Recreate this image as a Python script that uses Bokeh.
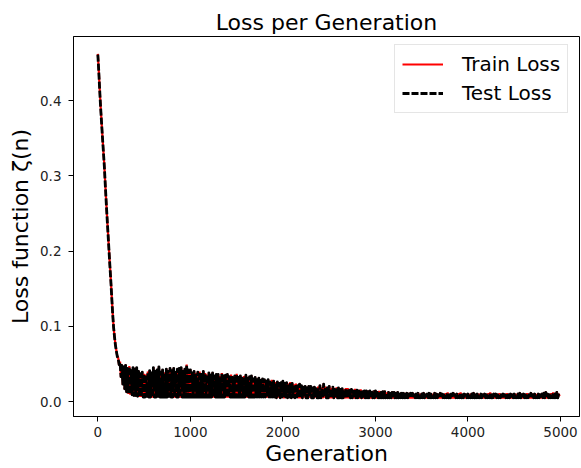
from bokeh.plotting import figure
from bokeh.models import Range1d, FixedTicker, PrintfTickFormatter, Legend, LegendItem
from bokeh.embed import file_html
from bokeh.resources import INLINE

generations = list(range(0, 5000, 10))

train_loss = [
    0.462, 0.440, 0.415, 0.392, 0.372, 0.352, 0.333, 0.314, 0.290, 0.267,
    0.245, 0.224, 0.203, 0.182, 0.162, 0.140, 0.118, 0.100, 0.087, 0.076,
    0.068, 0.060, 0.058, 0.048, 0.053, 0.032, 0.049, 0.022, 0.047, 0.016,
    0.049, 0.012, 0.045, 0.010, 0.047, 0.009, 0.042, 0.008, 0.046, 0.007,
    0.044, 0.007, 0.046, 0.006, 0.041, 0.006, 0.038, 0.006, 0.040, 0.005,
    0.037, 0.005, 0.036, 0.006, 0.040, 0.005, 0.042, 0.005, 0.039, 0.005,
    0.046, 0.005, 0.041, 0.005, 0.043, 0.006, 0.047, 0.005, 0.040, 0.005,
    0.043, 0.005, 0.039, 0.005, 0.044, 0.005, 0.041, 0.006, 0.045, 0.005,
    0.042, 0.005, 0.045, 0.005, 0.040, 0.005, 0.044, 0.005, 0.045, 0.005,
    0.046, 0.005, 0.041, 0.005, 0.044, 0.005, 0.049, 0.005, 0.043, 0.005,
    0.043, 0.005, 0.039, 0.005, 0.041, 0.005, 0.038, 0.005, 0.040, 0.005,
    0.040, 0.005, 0.037, 0.005, 0.041, 0.005, 0.038, 0.005, 0.036, 0.005,
    0.039, 0.005, 0.036, 0.005, 0.039, 0.005, 0.035, 0.005, 0.037, 0.005,
    0.037, 0.005, 0.034, 0.005, 0.038, 0.005, 0.035, 0.005, 0.036, 0.005,
    0.037, 0.005, 0.034, 0.005, 0.036, 0.005, 0.033, 0.005, 0.035, 0.005,
    0.037, 0.005, 0.033, 0.005, 0.035, 0.005, 0.032, 0.005, 0.034, 0.005,
    0.036, 0.005, 0.032, 0.005, 0.034, 0.005, 0.035, 0.005, 0.031, 0.005,
    0.033, 0.005, 0.030, 0.005, 0.032, 0.005, 0.029, 0.005, 0.031, 0.005,
    0.030, 0.005, 0.028, 0.005, 0.030, 0.005, 0.027, 0.005, 0.029, 0.005,
    0.028, 0.005, 0.026, 0.004, 0.027, 0.005, 0.025, 0.004, 0.026, 0.005,
    0.028, 0.004, 0.025, 0.005, 0.026, 0.004, 0.024, 0.005, 0.026, 0.004,
    0.025, 0.005, 0.023, 0.004, 0.024, 0.005, 0.022, 0.004, 0.024, 0.004,
    0.022, 0.004, 0.020, 0.005, 0.021, 0.004, 0.019, 0.004, 0.021, 0.005,
    0.021, 0.004, 0.019, 0.004, 0.020, 0.005, 0.018, 0.004, 0.020, 0.004,
    0.022, 0.004, 0.019, 0.004, 0.024, 0.005, 0.020, 0.004, 0.019, 0.004,
    0.021, 0.004, 0.018, 0.004, 0.020, 0.004, 0.017, 0.005, 0.019, 0.004,
    0.019, 0.004, 0.017, 0.004, 0.018, 0.004, 0.016, 0.004, 0.018, 0.004,
    0.018, 0.004, 0.016, 0.004, 0.017, 0.004, 0.015, 0.004, 0.017, 0.004,
    0.016, 0.004, 0.015, 0.004, 0.016, 0.004, 0.014, 0.004, 0.015, 0.004,
    0.015, 0.004, 0.014, 0.004, 0.015, 0.004, 0.013, 0.004, 0.014, 0.004,
    0.015, 0.004, 0.013, 0.004, 0.014, 0.004, 0.013, 0.004, 0.014, 0.004,
    0.014, 0.004, 0.012, 0.004, 0.013, 0.004, 0.012, 0.004, 0.013, 0.004,
    0.013, 0.004, 0.012, 0.004, 0.013, 0.004, 0.011, 0.004, 0.012, 0.004,
    0.012, 0.004, 0.011, 0.004, 0.012, 0.004, 0.011, 0.004, 0.012, 0.004,
    0.012, 0.004, 0.010, 0.004, 0.011, 0.004, 0.012, 0.004, 0.010, 0.004,
    0.011, 0.004, 0.012, 0.004, 0.010, 0.004, 0.011, 0.004, 0.012, 0.004,
    0.011, 0.004, 0.010, 0.004, 0.012, 0.004, 0.011, 0.004, 0.010, 0.004,
    0.012, 0.004, 0.011, 0.004, 0.010, 0.004, 0.011, 0.004, 0.012, 0.004,
    0.010, 0.004, 0.011, 0.004, 0.012, 0.004, 0.010, 0.004, 0.011, 0.004,
    0.011, 0.004, 0.012, 0.004, 0.010, 0.004, 0.011, 0.004, 0.010, 0.004,
    0.011, 0.004, 0.010, 0.004, 0.011, 0.004, 0.012, 0.004, 0.010, 0.004,
    0.011, 0.004, 0.010, 0.004, 0.011, 0.004, 0.010, 0.004, 0.011, 0.004,
    0.010, 0.004, 0.011, 0.004, 0.012, 0.004, 0.010, 0.004, 0.011, 0.004,
    0.011, 0.004, 0.010, 0.004, 0.011, 0.004, 0.010, 0.004, 0.011, 0.004,
    0.010, 0.004, 0.011, 0.004, 0.010, 0.004, 0.011, 0.004, 0.010, 0.004,
    0.011, 0.004, 0.010, 0.004, 0.011, 0.004, 0.012, 0.004, 0.010, 0.004,
    0.011, 0.004, 0.010, 0.004, 0.011, 0.004, 0.010, 0.004, 0.012, 0.004,
    0.010, 0.004, 0.011, 0.004, 0.010, 0.004, 0.011, 0.004, 0.010, 0.004,
    0.011, 0.004, 0.012, 0.004, 0.013, 0.004, 0.011, 0.004, 0.010, 0.004,
    0.011, 0.004, 0.012, 0.004, 0.011, 0.004, 0.013, 0.004, 0.010, 0.007,
]

test_loss = [
    0.461, 0.439, 0.414, 0.391, 0.371, 0.351, 0.332, 0.313, 0.289, 0.266,
    0.244, 0.223, 0.202, 0.181, 0.161, 0.139, 0.117, 0.099, 0.086, 0.075,
    0.067, 0.060, 0.057, 0.049, 0.052, 0.033, 0.048, 0.023, 0.046, 0.017,
    0.048, 0.013, 0.044, 0.011, 0.046, 0.010, 0.041, 0.009, 0.045, 0.008,
    0.043, 0.008, 0.045, 0.007, 0.040, 0.007, 0.037, 0.007, 0.039, 0.006,
    0.036, 0.006, 0.035, 0.007, 0.039, 0.006, 0.041, 0.006, 0.038, 0.006,
    0.045, 0.006, 0.040, 0.006, 0.042, 0.007, 0.046, 0.006, 0.039, 0.006,
    0.042, 0.006, 0.038, 0.006, 0.043, 0.006, 0.040, 0.007, 0.044, 0.006,
    0.041, 0.006, 0.044, 0.006, 0.039, 0.006, 0.043, 0.006, 0.044, 0.006,
    0.045, 0.006, 0.040, 0.006, 0.043, 0.006, 0.048, 0.006, 0.042, 0.006,
    0.042, 0.006, 0.038, 0.006, 0.040, 0.006, 0.037, 0.006, 0.039, 0.006,
    0.039, 0.006, 0.036, 0.006, 0.040, 0.006, 0.037, 0.006, 0.035, 0.006,
    0.038, 0.006, 0.035, 0.006, 0.038, 0.006, 0.034, 0.006, 0.036, 0.006,
    0.036, 0.006, 0.033, 0.006, 0.037, 0.006, 0.034, 0.006, 0.035, 0.006,
    0.036, 0.006, 0.033, 0.006, 0.035, 0.006, 0.032, 0.006, 0.034, 0.006,
    0.036, 0.006, 0.032, 0.006, 0.034, 0.006, 0.031, 0.006, 0.033, 0.006,
    0.035, 0.006, 0.031, 0.006, 0.033, 0.006, 0.034, 0.006, 0.030, 0.006,
    0.032, 0.006, 0.029, 0.006, 0.031, 0.006, 0.028, 0.006, 0.030, 0.006,
    0.029, 0.006, 0.027, 0.006, 0.029, 0.006, 0.026, 0.006, 0.028, 0.006,
    0.027, 0.006, 0.025, 0.005, 0.026, 0.006, 0.024, 0.005, 0.025, 0.006,
    0.027, 0.005, 0.024, 0.006, 0.025, 0.005, 0.023, 0.006, 0.025, 0.005,
    0.024, 0.006, 0.022, 0.005, 0.023, 0.006, 0.021, 0.005, 0.023, 0.005,
    0.021, 0.005, 0.019, 0.006, 0.020, 0.005, 0.018, 0.005, 0.020, 0.006,
    0.020, 0.005, 0.018, 0.005, 0.019, 0.006, 0.017, 0.005, 0.019, 0.005,
    0.021, 0.005, 0.018, 0.005, 0.023, 0.006, 0.019, 0.005, 0.018, 0.005,
    0.020, 0.005, 0.017, 0.005, 0.019, 0.005, 0.016, 0.006, 0.018, 0.005,
    0.018, 0.005, 0.016, 0.005, 0.017, 0.005, 0.015, 0.005, 0.017, 0.005,
    0.017, 0.005, 0.015, 0.005, 0.016, 0.005, 0.014, 0.005, 0.016, 0.005,
    0.015, 0.005, 0.014, 0.005, 0.015, 0.005, 0.013, 0.005, 0.014, 0.005,
    0.014, 0.005, 0.013, 0.005, 0.014, 0.005, 0.012, 0.005, 0.013, 0.005,
    0.014, 0.005, 0.012, 0.005, 0.013, 0.005, 0.012, 0.005, 0.013, 0.005,
    0.013, 0.005, 0.011, 0.005, 0.012, 0.005, 0.011, 0.005, 0.012, 0.005,
    0.012, 0.005, 0.011, 0.005, 0.012, 0.005, 0.010, 0.005, 0.011, 0.005,
    0.011, 0.005, 0.010, 0.005, 0.011, 0.005, 0.010, 0.005, 0.011, 0.005,
    0.011, 0.005, 0.009, 0.005, 0.010, 0.005, 0.011, 0.005, 0.009, 0.005,
    0.010, 0.005, 0.011, 0.005, 0.009, 0.005, 0.010, 0.005, 0.011, 0.005,
    0.010, 0.005, 0.009, 0.005, 0.011, 0.005, 0.010, 0.005, 0.009, 0.005,
    0.011, 0.005, 0.010, 0.005, 0.009, 0.005, 0.010, 0.005, 0.011, 0.005,
    0.009, 0.005, 0.010, 0.005, 0.011, 0.005, 0.009, 0.005, 0.010, 0.005,
    0.010, 0.005, 0.011, 0.005, 0.009, 0.005, 0.010, 0.005, 0.009, 0.005,
    0.010, 0.005, 0.009, 0.005, 0.010, 0.005, 0.011, 0.005, 0.009, 0.005,
    0.010, 0.005, 0.009, 0.005, 0.010, 0.005, 0.009, 0.005, 0.010, 0.005,
    0.009, 0.005, 0.010, 0.005, 0.011, 0.005, 0.009, 0.005, 0.010, 0.005,
    0.010, 0.005, 0.009, 0.005, 0.010, 0.005, 0.009, 0.005, 0.010, 0.005,
    0.009, 0.005, 0.010, 0.005, 0.009, 0.005, 0.010, 0.005, 0.009, 0.005,
    0.010, 0.005, 0.009, 0.005, 0.010, 0.005, 0.011, 0.005, 0.009, 0.005,
    0.010, 0.005, 0.009, 0.005, 0.010, 0.005, 0.009, 0.005, 0.011, 0.005,
    0.009, 0.005, 0.010, 0.005, 0.009, 0.005, 0.010, 0.005, 0.009, 0.005,
    0.010, 0.005, 0.011, 0.005, 0.012, 0.005, 0.010, 0.005, 0.009, 0.005,
    0.010, 0.005, 0.011, 0.005, 0.010, 0.005, 0.012, 0.005, 0.009, 0.007,
]

x_ticks = [0, 1000, 2000, 3000, 4000, 5000]
y_ticks = [0.0, 0.1, 0.2, 0.3, 0.4]

FONT = "DejaVu Sans"

p = figure(
    width=581, height=468,
    output_backend="svg", toolbar_location=None,
    x_range=Range1d(-263, 5205), y_range=Range1d(-0.0199, 0.4851),
    min_border_left=73, min_border_right=2, min_border_top=36, min_border_bottom=52,
    title="Loss per Generation",
)
p.title.text_font = FONT
p.title.text_font_size = "22px"
p.title.text_font_style = "normal"
p.title.align = "center"
p.title.text_color = "black"
p.title.standoff = 4

p.xgrid.visible = False
p.ygrid.visible = False
p.outline_line_color = "black"
p.outline_line_width = 1
p.outline_line_alpha = 1
p.background_fill_color = "white"
p.border_fill_color = "white"

for ax in (p.xaxis[0], p.yaxis[0]):
    ax.axis_label_text_font = FONT
    ax.axis_label_text_font_size = "22px"
    ax.axis_label_text_font_style = "normal"
    ax.axis_label_text_color = "black"
    ax.major_label_text_font = FONT
    ax.major_label_text_font_size = "13.5px"
    ax.major_label_text_color = "#222222"
    ax.major_tick_out = 5
    ax.major_tick_in = 0
    ax.minor_tick_out = 0
    ax.minor_tick_in = 0
    ax.axis_line_color = "black"
    ax.major_tick_line_color = "black"

p.xaxis[0].ticker = FixedTicker(ticks=x_ticks)
p.yaxis[0].ticker = FixedTicker(ticks=y_ticks)
p.yaxis[0].formatter = PrintfTickFormatter(format="%.1f")
p.xaxis[0].axis_label = "Generation"
p.yaxis[0].axis_label = "Loss function \u03b6(n)"
p.xaxis[0].major_label_standoff = 5
p.xaxis[0].axis_label_standoff = 1
p.yaxis[0].major_label_standoff = 7
p.yaxis[0].axis_label_standoff = 4

r_train = p.line(generations, train_loss, line_color="red", line_width=2.2)
r_test = p.line(generations, test_loss, line_color="black", line_width=2.8,
                line_dash="7 2", line_join="round")

legend = Legend(
    items=[LegendItem(label="Train Loss", renderers=[r_train]),
           LegendItem(label="Test Loss", renderers=[r_test])],
    location=(321, 303),
    margin=0, padding=7, spacing=5,
    glyph_width=41, glyph_height=24, label_height=24, label_standoff=19,
    label_text_font=FONT, label_text_font_size="20px", label_text_color="black",
    border_line_color="#cccccc", border_line_width=1,
    background_fill_color="white", background_fill_alpha=0.8,
)
p.add_layout(legend)

open("out.html", "w").write(file_html(p, INLINE))
